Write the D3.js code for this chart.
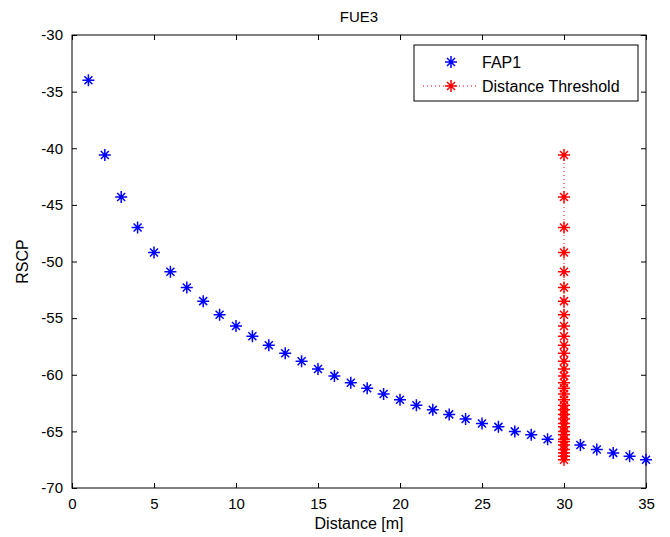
<!DOCTYPE html>
<html>
<head>
<meta charset="utf-8">
<script src="https://cdn.jsdelivr.net/npm/d3@7"></script>
<style>
  body { margin: 0; background: #fff; }
  svg { display: block; font-family: "Liberation Sans", Arial, sans-serif; }
  .tick text { font-size: 15px; fill: #000; }
</style>
</head>
<body>
<svg></svg>
<script>
const width = 670;
const height = 537;
const margin = { top: 35, right: 24, bottom: 49, left: 72 };

// FAP1 RSCP vs distance (distances 1..35, 30 is hidden behind the threshold column)
const distance = [1, 2, 3, 4, 5, 6, 7, 8, 9, 10, 11, 12, 13, 14, 15, 16, 17, 18,
  19, 20, 21, 22, 23, 24, 25, 26, 27, 28, 29, 30, 31, 32, 33, 34, 35];
const fap1 = [-34.0, -40.6, -44.3, -47.0, -49.2, -50.9, -52.3, -53.5, -54.7, -55.7,
  -56.6, -57.4, -58.1, -58.8, -59.5, -60.1, -60.7, -61.2, -61.7, -62.2,
  -62.7, -63.1, -63.5, -63.9, -64.3, -64.6, -65.0, -65.3, -65.7, -65.9,
  -66.2, -66.6, -66.9, -67.2, -67.5];

// Distance threshold column at 30 m
const thresholdX = 30;
const thresholdY = [-40.6, -44.3, -47.0, -49.2, -50.9, -52.3, -53.5, -54.7, -55.7,
  -56.6, -57.4, -58.1, -58.8, -59.5, -60.1, -60.7, -61.2, -61.7, -62.2,
  -62.7, -63.1, -63.5, -63.9, -64.3, -64.6, -65.0, -65.3, -65.7, -65.9,
  -66.2, -66.6, -66.9, -67.2, -67.5];

const xTicks = [0, 5, 10, 15, 20, 25, 30, 35];
const yTicks = [-70, -65, -60, -55, -50, -45, -40, -35, -30];

const svg = d3.select('svg')
  .attr('width', width)
  .attr('height', height);

const xScale = d3.scaleLinear()
  .domain([0, 35])
  .range([margin.left, width - margin.right]);

const yScale = d3.scaleLinear()
  .domain([-70, -30])
  .range([height - margin.bottom, margin.top]);

const x0 = margin.left, x1 = width - margin.right;
const y0 = margin.top, y1 = height - margin.bottom;

// axes with inward ticks, box style
svg.append('g')
  .attr('transform', `translate(0,${y1})`)
  .call(d3.axisBottom(xScale).tickValues(xTicks).tickSizeInner(-5).tickSizeOuter(0).tickPadding(10))
  .call(g => g.select('.domain').remove());

svg.append('g')
  .attr('transform', `translate(0,${y0})`)
  .call(d3.axisTop(xScale).tickValues(xTicks).tickSizeInner(-5).tickSizeOuter(0).tickFormat(''))
  .call(g => g.select('.domain').remove());

svg.append('g')
  .attr('transform', `translate(${x0},0)`)
  .call(d3.axisLeft(yScale).tickValues(yTicks).tickSizeInner(-5).tickSizeOuter(0).tickPadding(9))
  .call(g => g.select('.domain').remove());

svg.append('g')
  .attr('transform', `translate(${x1},0)`)
  .call(d3.axisRight(yScale).tickValues(yTicks).tickSizeInner(-5).tickSizeOuter(0).tickFormat(''))
  .call(g => g.select('.domain').remove());

svg.selectAll('.tick line').attr('stroke', '#000');
svg.selectAll('.tick text').text(function () { return this.textContent.replace('\u2212', '-'); });

svg.append('rect')
  .attr('x', x0).attr('y', y0)
  .attr('width', x1 - x0).attr('height', y1 - y0)
  .attr('fill', 'none').attr('stroke', '#000').attr('stroke-width', 1);

// asterisk marker
function star(g, cx, cy, color) {
  const r = 6, d = 4;
  g.append('path')
    .attr('d', `M${cx - r},${cy}H${cx + r}M${cx},${cy - r}V${cy + r}` +
      `M${cx - d},${cy - d}L${cx + d},${cy + d}M${cx - d},${cy + d}L${cx + d},${cy - d}`)
    .attr('stroke', color)
    .attr('stroke-width', 1.5)
    .attr('fill', 'none');
  g.append('circle')
    .attr('cx', cx).attr('cy', cy).attr('r', 1.6)
    .attr('fill', color);
}

// threshold dotted line
svg.append('path')
  .datum(thresholdY)
  .attr('d', d3.line().x(() => xScale(thresholdX)).y(d => yScale(d)))
  .attr('stroke', '#f00')
  .attr('stroke-dasharray', '1,3')
  .attr('fill', 'none');

const fapG = svg.append('g');
distance.forEach((d, i) => {
  if (d === thresholdX) return;
  star(fapG, xScale(d), yScale(fap1[i]), '#00f');
});

const thrG = svg.append('g');
thresholdY.forEach(v => star(thrG, xScale(thresholdX), yScale(v), '#f00'));

// title and labels
svg.append('text')
  .attr('x', (x0 + x1) / 2).attr('y', 22)
  .attr('text-anchor', 'middle')
  .style('font-size', '15px')
  .text('FUE3');

svg.append('text')
  .attr('x', (x0 + x1) / 2).attr('y', 529)
  .attr('text-anchor', 'middle')
  .style('font-size', '16px')
  .text('Distance [m]');

svg.append('text')
  .attr('transform', `translate(28,${(y0 + y1) / 2}) rotate(-90)`)
  .attr('text-anchor', 'middle')
  .style('font-size', '16px')
  .text('RSCP');

// legend
const legend = svg.append('g');
legend.append('rect')
  .attr('x', 414).attr('y', 45)
  .attr('width', 224).attr('height', 56)
  .attr('fill', '#fff').attr('stroke', '#000');

star(legend, 451, 62, '#00f');
legend.append('text').attr('x', 482).attr('y', 68).style('font-size', '16px').text('FAP1');

legend.append('line')
  .attr('x1', 423).attr('x2', 479).attr('y1', 86).attr('y2', 86)
  .attr('stroke', '#f00').attr('stroke-dasharray', '1,3');
star(legend, 451, 86, '#f00');
legend.append('text').attr('x', 482).attr('y', 92).style('font-size', '16px').text('Distance Threshold');
</script>
</body>
</html>
